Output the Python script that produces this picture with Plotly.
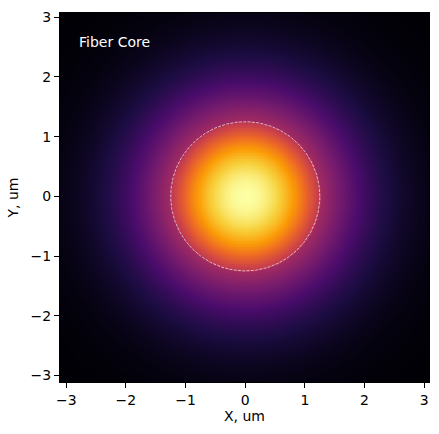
import numpy as np
import plotly.graph_objects as go

# Parameters
grid_min = -3.1
grid_max = 3.1
grid_points = 241
core_radius = 1.25            # um, dashed circle
core_u = 1.52                 # transverse core parameter of the mode
clad_edge_level = 0.44        # normalized amplitude just outside the core
clad_decay_sq = 3.0           # um^2, cladding tail decay scale
tick_values = [-3, -2, -1, 0, 1, 2, 3]
annotation_text = "Fiber Core"

x = np.linspace(grid_min, grid_max, grid_points)
y = np.linspace(grid_min, grid_max, grid_points)
X, Y = np.meshgrid(x, y)
R = np.sqrt(X**2 + Y**2)


def bessel_j0(v):
    th = np.linspace(0, np.pi, 256)
    vals = np.cos(np.multiply.outer(v, np.sin(th)))
    return np.trapezoid(vals, th, axis=-1) / np.pi


r_flat = R.ravel()
inside = r_flat < core_radius
field = np.empty_like(r_flat)
field[inside] = bessel_j0(core_u * r_flat[inside] / core_radius)
field[~inside] = clad_edge_level * np.exp(-(r_flat[~inside]**2 - core_radius**2) / clad_decay_sq)
field = field.reshape(R.shape)

fig = go.Figure()
fig.add_trace(go.Heatmap(x=x, y=y, z=field, colorscale="Inferno",
                         showscale=False, zsmooth="best", zmin=0, zmax=1,
                         hoverinfo="skip"))

theta = np.linspace(0, 2 * np.pi, 721)
fig.add_trace(go.Scatter(x=core_radius * np.cos(theta), y=core_radius * np.sin(theta),
                         mode="lines",
                         line=dict(color="rgba(255,255,255,0.8)", width=0.8, dash="3px,1.3px"),
                         hoverinfo="skip", showlegend=False))

fig.add_annotation(x=-2.82, y=2.58, text=annotation_text, showarrow=False,
                   xanchor="left", yanchor="middle",
                   font=dict(color="white", size=14, family="DejaVu Sans"))

axis_common = dict(showgrid=False, zeroline=False, ticks="outside", ticklen=5,
                   tickwidth=1, tickcolor="black", showline=True, linecolor="black",
                   linewidth=1, mirror=True, tickvals=tick_values,
                   tickfont=dict(size=14, color="black", family="DejaVu Sans"),
                   title_font=dict(size=14, color="black", family="DejaVu Sans"))

fig.update_xaxes(range=[-3.105, 3.08], title_text="X, um", title_standoff=4, **axis_common)
fig.update_yaxes(range=[-3.11, 3.07], title_text="Y, um", title_standoff=8, **axis_common)

fig.update_layout(width=439, height=434, margin=dict(l=60, r=9, t=11, b=52),
                  paper_bgcolor="white", plot_bgcolor="black", showlegend=False,
                  font=dict(family="DejaVu Sans"))

fig.write_html("out.html")
